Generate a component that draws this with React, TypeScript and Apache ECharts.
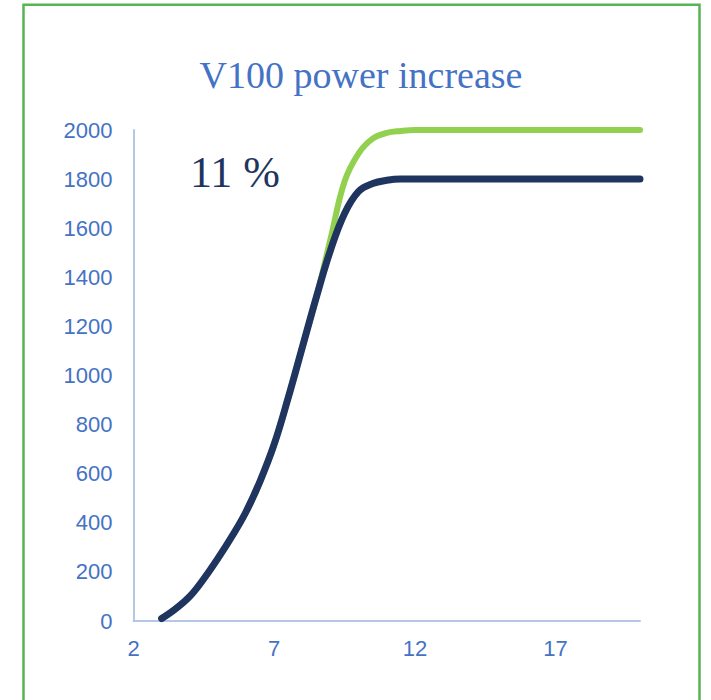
import React, { useEffect, useRef } from "react";
import * as echarts from "echarts";

const titleText = "V100 power increase";
const noteText = "11 %";

const xNavy = [3, 3.5, 4, 4.5, 5, 5.5, 6, 6.5, 7, 7.5, 8, 8.5, 9, 9.5, 10, 10.5, 11, 11.5, 12, 13, 14, 15, 16, 17, 18, 19, 20];
const yNavy = [10, 50, 100, 172, 255, 345, 445, 570, 720, 910, 1115, 1320, 1510, 1660, 1750, 1782, 1795, 1800, 1800, 1800, 1800, 1800, 1800, 1800, 1800, 1800, 1800];

const xGreen = [3, 3.5, 4, 4.5, 5, 5.5, 6, 6.5, 7, 7.5, 8, 8.5, 9, 9.5, 10, 10.5, 11, 11.5, 12, 13, 14, 15, 16, 17, 18, 19, 20];
const yGreen = [10, 50, 100, 172, 255, 345, 445, 570, 720, 910, 1115, 1320, 1555, 1790, 1905, 1965, 1988, 1996, 2000, 2000, 2000, 2000, 2000, 2000, 2000, 2000, 2000];

const xMin = 2;
const xMax = 20;
const xStep = 5;
const yMin = 0;
const yMax = 2000;
const yStep = 200;

export default function App() {
  const ref = useRef<HTMLDivElement>(null);
  useEffect(() => {
    document.body.style.margin = "0";
    const chart = echarts.init(ref.current!, null, { renderer: "svg" });
    const axisColor = "#b4c7e7";
    const labelColor = "#4472c4";
    chart.setOption({
      animation: false,
      backgroundColor: "#ffffff",
      grid: { left: 133.5, right: 71, top: 130, bottom: 79, containLabel: false },
      xAxis: {
        type: "value",
        min: xMin,
        max: xMax,
        interval: xStep,
        axisLine: { show: true, lineStyle: { color: axisColor, width: 2 } },
        axisTick: { show: false },
        splitLine: { show: false },
        axisLabel: {
          color: labelColor,
          fontSize: 22,
          fontFamily: "Liberation Sans, Arial, sans-serif",
          margin: 16,
          showMaxLabel: false,
          formatter: (v: number) => (v === xMax ? "" : String(v)),
        },
      },
      yAxis: {
        type: "value",
        min: yMin,
        max: yMax,
        interval: yStep,
        axisLine: { show: true, lineStyle: { color: axisColor, width: 2 } },
        axisTick: { show: false },
        splitLine: { show: false },
        axisLabel: {
          color: labelColor,
          fontSize: 22,
          fontFamily: "Liberation Sans, Arial, sans-serif",
          margin: 21,
          formatter: (v: number) => String(v),
        },
      },
      series: [
        {
          type: "line",
          data: xGreen.map((x, i) => [x, yGreen[i]]),
          smooth: 0.4,
          showSymbol: false,
          lineStyle: { color: "#92d050", width: 6, cap: "round" },
          z: 2,
        },
        {
          type: "line",
          data: xNavy.map((x, i) => [x, yNavy[i]]),
          smooth: 0.4,
          showSymbol: false,
          lineStyle: { color: "#1f3560", width: 7, cap: "round" },
          z: 3,
        },
      ],
      graphic: [
        {
          type: "rect",
          shape: { x: 23.5, y: 4.7, width: 676, height: 720 },
          style: { fill: "none", stroke: "#56b454", lineWidth: 2.5 },
          silent: true,
        },
        {
          type: "text",
          x: 361,
          y: 75,
          style: {
            text: titleText,
            fill: labelColor,
            font: "38px 'Liberation Serif', 'Times New Roman', serif",
            textAlign: "center",
            textVerticalAlign: "middle",
          },
        },
        {
          type: "text",
          x: 190,
          y: 172,
          style: {
            text: noteText,
            fill: "#1f3560",
            font: "44px 'Liberation Serif', 'Times New Roman', serif",
            textAlign: "left",
            textVerticalAlign: "middle",
          },
        },
      ],
    });
    return () => chart.dispose();
  }, []);
  return <div ref={ref} style={{ width: 711, height: 700 }} />;
}
